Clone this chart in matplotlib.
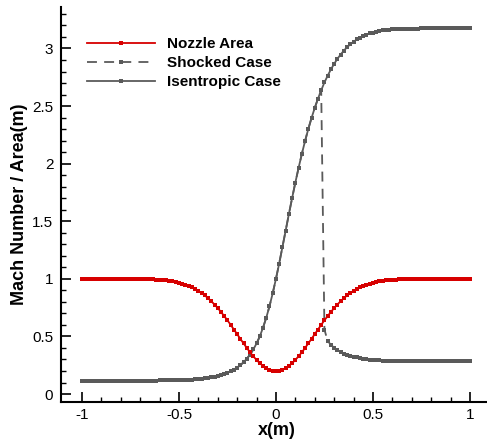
import numpy as np
import matplotlib.pyplot as plt
from matplotlib.ticker import FixedLocator

plt.rcParams['font.family'] = ['Liberation Sans', 'DejaVu Sans']
plt.rcParams['axes.unicode_minus'] = False

# grid of 121 nodes from -1 to 1
x = np.linspace(-1.0, 1.0, 121)

nozzle_area = [
    1.000, 1.000, 1.000, 1.000, 1.000, 1.000, 1.000, 1.000, 1.000, 1.000,
    1.000, 1.000, 1.000, 1.000, 1.000, 0.999, 0.999, 0.999, 0.998, 0.998,
    0.997, 0.996, 0.995, 0.994, 0.992, 0.990, 0.987, 0.983, 0.979, 0.973,
    0.967, 0.959, 0.950, 0.940, 0.927, 0.913, 0.896, 0.877, 0.856, 0.832,
    0.806, 0.777, 0.746, 0.713, 0.677, 0.640, 0.601, 0.560, 0.520, 0.479,
    0.439, 0.400, 0.362, 0.328, 0.296, 0.268, 0.244, 0.225, 0.211, 0.203,
    0.200,
    0.203, 0.211, 0.225, 0.244, 0.268, 0.296, 0.328, 0.362, 0.400, 0.439,
    0.479, 0.520, 0.560, 0.601, 0.640, 0.677, 0.713, 0.746, 0.777, 0.806,
    0.832, 0.856, 0.877, 0.896, 0.913, 0.927, 0.940, 0.950, 0.959, 0.967,
    0.973, 0.979, 0.983, 0.987, 0.990, 0.992, 0.994, 0.995, 0.996, 0.997,
    0.998, 0.998, 0.999, 0.999, 0.999, 1.000, 1.000, 1.000, 1.000, 1.000,
    1.000, 1.000, 1.000, 1.000, 1.000, 1.000, 1.000, 1.000, 1.000, 1.000,
]

mach_isentropic = [
    0.117, 0.117, 0.117, 0.117, 0.117, 0.117, 0.117, 0.117, 0.117, 0.117,
    0.117, 0.117, 0.117, 0.117, 0.117, 0.117, 0.117, 0.117, 0.117, 0.117,
    0.117, 0.117, 0.117, 0.117, 0.118, 0.118, 0.118, 0.119, 0.119, 0.120,
    0.121, 0.122, 0.123, 0.124, 0.126, 0.128, 0.131, 0.133, 0.137, 0.141,
    0.145, 0.151, 0.157, 0.165, 0.174, 0.185, 0.197, 0.212, 0.230, 0.251,
    0.276, 0.307, 0.343, 0.387, 0.439, 0.500, 0.576, 0.662, 0.762, 0.875,
    1.000,
    1.133, 1.275, 1.418, 1.562, 1.701, 1.836, 1.963, 2.083, 2.196, 2.300,
    2.396, 2.484, 2.564, 2.637, 2.705, 2.764, 2.818, 2.866, 2.910, 2.947,
    2.981, 3.011, 3.036, 3.058, 3.078, 3.095, 3.109, 3.120, 3.130, 3.138,
    3.145, 3.151, 3.156, 3.160, 3.163, 3.166, 3.168, 3.169, 3.171, 3.172,
    3.172, 3.173, 3.173, 3.173, 3.174, 3.174, 3.174, 3.174, 3.174, 3.174,
    3.174, 3.174, 3.174, 3.174, 3.174, 3.174, 3.174, 3.174, 3.174, 3.174,
]

mach_shocked = [
    0.117, 0.117, 0.117, 0.117, 0.117, 0.117, 0.117, 0.117, 0.117, 0.117,
    0.117, 0.117, 0.117, 0.117, 0.117, 0.117, 0.117, 0.117, 0.117, 0.117,
    0.117, 0.117, 0.117, 0.117, 0.118, 0.118, 0.118, 0.119, 0.119, 0.120,
    0.121, 0.122, 0.123, 0.124, 0.126, 0.128, 0.131, 0.133, 0.137, 0.141,
    0.145, 0.151, 0.157, 0.165, 0.174, 0.185, 0.197, 0.212, 0.230, 0.251,
    0.276, 0.307, 0.343, 0.387, 0.439, 0.500, 0.576, 0.662, 0.762, 0.875,
    1.000,
    1.133, 1.275, 1.418, 1.562, 1.701, 1.836, 1.963, 2.083, 2.196, 2.300,
    2.396, 2.484, 2.564, 2.637, 0.560, 0.460, 0.428, 0.402, 0.382, 0.366,
    0.352, 0.341, 0.332, 0.324, 0.318, 0.312, 0.307, 0.303, 0.299, 0.296,
    0.294, 0.292, 0.291, 0.290, 0.289, 0.289, 0.288, 0.288, 0.288, 0.287,
    0.287, 0.287, 0.287, 0.287, 0.287, 0.287, 0.287, 0.287, 0.287, 0.287,
    0.287, 0.287, 0.287, 0.287, 0.287, 0.287, 0.287, 0.287, 0.287, 0.287,
]

red = '#d70000'
gray = '#5a5a5a'

fig = plt.figure(figsize=(4.87, 4.41), dpi=100)
ax = fig.add_axes([61 / 487, 39 / 441, 426 / 487, 395 / 441])

l_shock, = ax.plot(x, mach_shocked, color=gray, lw=1.3, dashes=(5.5, 4),
                   marker='s', ms=2.8, mew=0, zorder=2)
l_isen, = ax.plot(x, mach_isentropic, color=gray, lw=1.3,
                  marker='s', ms=2.8, mew=0, zorder=3)
l_area, = ax.plot(x, nozzle_area, color=red, lw=1.3,
                  marker='s', ms=2.8, mew=0, zorder=4)

ax.set_xlim(-1.108, 1.088)
ax.set_ylim(-0.069, 3.36)

for side in ['top', 'right']:
    ax.spines[side].set_visible(False)
for side in ['left', 'bottom']:
    ax.spines[side].set_linewidth(1.5)

ax.set_xticks([-1, -0.5, 0, 0.5, 1])
ax.set_xticklabels(['-1', '-0.5', '0', '0.5', '1'])
ax.set_yticks([0, 0.5, 1, 1.5, 2, 2.5, 3])
ax.set_yticklabels(['0', '0.5', '1', '1.5', '2', '2.5', '3'])
ax.xaxis.set_minor_locator(FixedLocator(np.round(np.arange(-1.0, 1.01, 0.1), 2)))
ax.yaxis.set_minor_locator(FixedLocator(np.round(np.arange(0.0, 3.31, 0.1), 2)))
ax.tick_params(which='major', direction='in', length=7, width=1.2, labelsize=11)
ax.tick_params(which='minor', direction='in', length=3.5, width=1.0)
ax.tick_params(axis='x', which='major', pad=4)
ax.tick_params(axis='y', which='major', pad=5.5)

ax.set_xlabel('x(m)', fontsize=13, fontweight='bold')
ax.set_ylabel('Mach Number / Area(m)', fontsize=13, fontweight='bold')
ax.xaxis.set_label_coords(0.506, -0.05)
ax.yaxis.set_label_coords(-0.078, 0.5)

ax.legend([l_area, l_shock, l_isen], ['Nozzle Area', 'Shocked Case', 'Isentropic Case'],
          loc='upper left', bbox_to_anchor=(87 / 487, 1 - 37 / 441),
          bbox_transform=fig.transFigure, frameon=False, borderpad=0,
          borderaxespad=0, handlelength=4.45, handletextpad=0.8,
          labelspacing=0.33, numpoints=1,
          prop={'weight': 'bold', 'size': 11})

plt.savefig('out.png', dpi=100)
